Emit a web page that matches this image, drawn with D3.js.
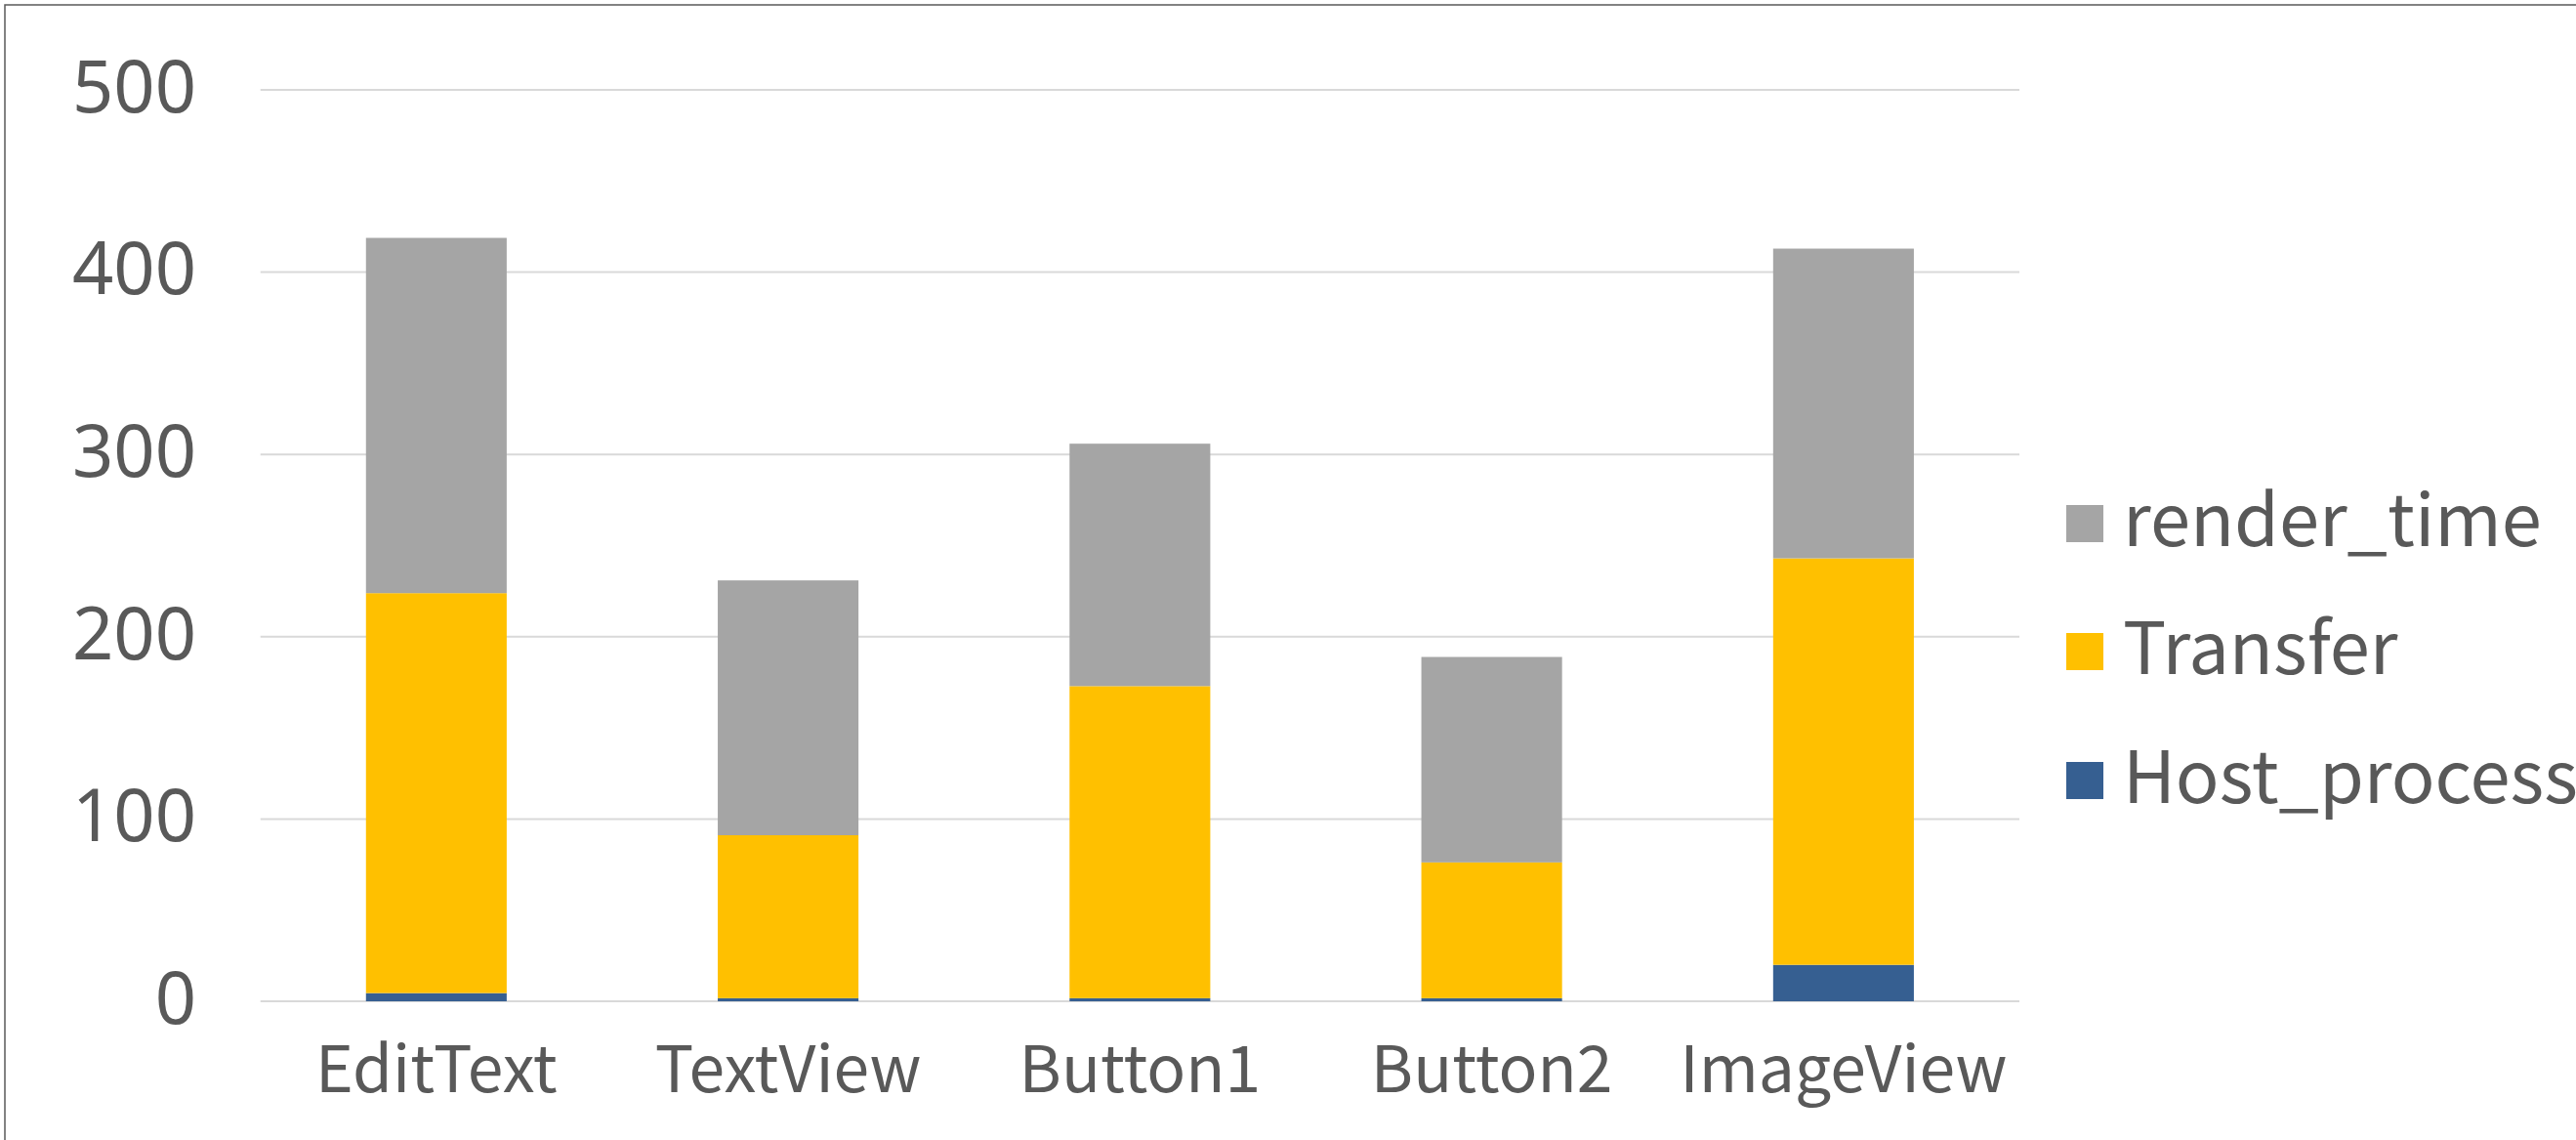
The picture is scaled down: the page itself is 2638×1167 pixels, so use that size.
<!DOCTYPE html>
<html>
<head>
<meta charset="utf-8">
<script src="https://cdn.jsdelivr.net/npm/d3@7"></script>
<style>
  html, body { margin: 0; padding: 0; background: #ffffff; overflow: hidden; }
  svg { display: block; }
</style>
</head>
<body>
<svg id="chart" width="2638" height="1167"></svg>
<script>
// ---- data ----
const categories = ["EditText", "TextView", "Button1", "Button2", "ImageView"];
const hostProcess = [4.5, 1.7, 1.7, 1.7, 20];
const transfer    = [219.4, 89.4, 171.2, 74.5, 223];
const renderTime  = [194.9, 139.8, 133.0, 112.7, 169.9];
const seriesNames = ["Host_process", "Transfer", "render_time"];
const seriesColors = ["#365F91", "#FFC000", "#A5A5A5"];
const yTicks = [0, 100, 200, 300, 400, 500];

const FONT = "'Noto Sans CJK KR', 'Noto Sans', sans-serif";
const NUMFONT = "'Noto Sans', 'Noto Sans CJK KR', sans-serif";
const TEXT = "#595959";

const svg = d3.select("#chart");
const W = 2638, H = 1167;

// outer chart border (cropped at right/bottom)
svg.append("rect")
  .attr("x", 5).attr("y", 5)
  .attr("width", W + 20).attr("height", H + 20)
  .attr("fill", "#ffffff")
  .attr("stroke", "#595959").attr("stroke-width", 1.5);

const plot = { left: 266.7, right: 2068, top: 92, bottom: 1025 };

const x = d3.scaleBand()
  .domain(categories)
  .range([plot.left, plot.right])
  .paddingInner(0.6)
  .paddingOuter(0.3);

const y = d3.scaleLinear()
  .domain([0, 500])
  .range([plot.bottom, plot.top]);

// gridlines
svg.append("g")
  .selectAll("line")
  .data(yTicks)
  .join("line")
  .attr("x1", plot.left).attr("x2", plot.right)
  .attr("y1", d => y(d)).attr("y2", d => y(d))
  .attr("stroke", "#D9D9D9").attr("stroke-width", 2);

// stack
const rows = categories.map((c, i) => ({
  cat: c,
  Host_process: hostProcess[i],
  Transfer: transfer[i],
  render_time: renderTime[i]
}));
const stack = d3.stack().keys(seriesNames)(rows);

svg.append("g")
  .selectAll("g")
  .data(stack)
  .join("g")
  .attr("fill", (d, i) => seriesColors[i])
  .selectAll("rect")
  .data(d => d)
  .join("rect")
  .attr("x", d => x(d.data.cat))
  .attr("width", x.bandwidth())
  .attr("y", d => y(d[1]))
  .attr("height", d => y(d[0]) - y(d[1]));

// y axis labels
const yAxis = d3.axisLeft(y).tickValues(yTicks).tickSize(0).tickPadding(0);
const gy = svg.append("g")
  .attr("transform", `translate(201,0)`)
  .call(yAxis);
gy.select(".domain").remove();
gy.selectAll("text")
  .attr("font-family", NUMFONT)
  .attr("font-size", 74)
  .attr("fill", TEXT)
  .attr("dy", "0.30em")
  .attr("dx", 0);

// x axis labels
const xAxis = d3.axisBottom(x).tickSize(0).tickPadding(0);
const gx = svg.append("g")
  .attr("transform", `translate(0,0)`)
  .call(xAxis);
gx.select(".domain").remove();
gx.selectAll("text")
  .attr("font-family", FONT)
  .attr("font-size", 66)
  .attr("fill", TEXT)
  .attr("y", 1118)
  .attr("dy", 0);

// legend (top to bottom: render_time, Transfer, Host_process)
const legendOrder = [2, 1, 0];
const legendY = [536, 667, 799];
const lg = svg.append("g");
legendOrder.forEach((si, k) => {
  lg.append("rect")
    .attr("x", 2116).attr("y", legendY[k] - 19)
    .attr("width", 38).attr("height", 38)
    .attr("fill", seriesColors[si]);
  lg.append("text")
    .attr("x", 2174).attr("y", legendY[k] + 23)
    .attr("font-family", FONT)
    .attr("font-size", 74)
    .attr("fill", TEXT)
    .text(seriesNames[si]);
});
</script>
</body>
</html>
